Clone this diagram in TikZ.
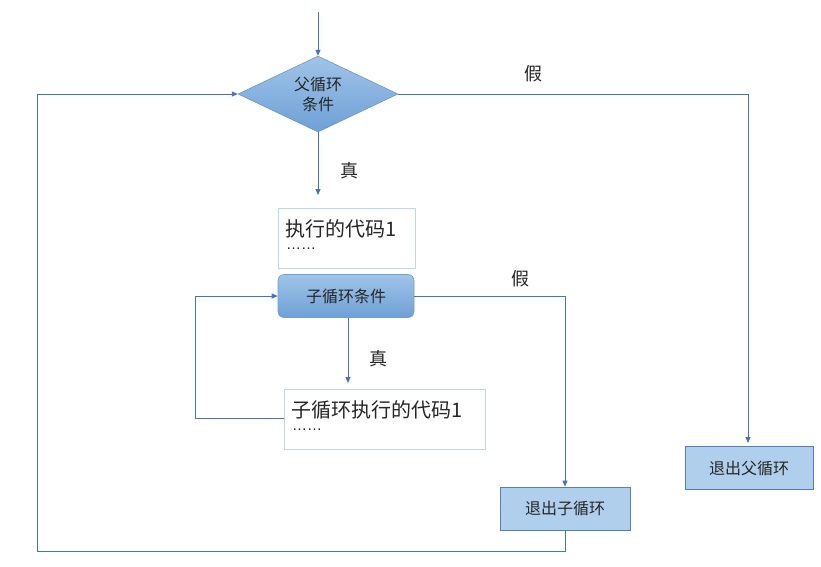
\documentclass[tikz,border=0pt]{standalone}
\usepackage{fontspec}
\newfontfamily\cjk{Noto Sans CJK SC}
\newfontfamily\lat{Liberation Sans}
\usetikzlibrary{shapes.geometric,arrows.meta}
\definecolor{lineblue}{RGB}{68,114,196}
\definecolor{boxborder}{RGB}{190,215,235}
\definecolor{exitfill}{RGB}{176,207,236}
\definecolor{exitborder}{RGB}{84,126,192}
\definecolor{dtop}{RGB}{160,196,232}
\definecolor{dbot}{RGB}{110,160,214}
\tikzset{
  conn/.style={draw=lineblue, line width=0.8pt, -{Triangle[width=5pt,length=6pt]}},
  codebox/.style={draw=boxborder, line width=0.8pt, fill=white, rectangle, inner sep=0pt},
  exitbox/.style={draw=exitborder, line width=0.8pt, fill=exitfill, rectangle, minimum width=128pt, minimum height=43pt, font=\cjk\fontsize{16}{18}\selectfont, text=black!85},
  lbl/.style={font=\cjk\fontsize{18}{20}\selectfont, text=black!85},
  codetext/.style={anchor=west, inner sep=0pt, font=\cjk\fontsize{20}{22}\selectfont, text=black!85},
  dots/.style={anchor=west, inner sep=0pt, font=\lat\fontsize{15}{16}\selectfont, text=black!85},
}
\begin{document}
\begin{tikzpicture}[x=1pt,y=-1pt]
\useasboundingbox[fill=white] (0,0) rectangle (821,566);
% parent diamond
\node[diamond, top color=dtop, bottom color=dbot, draw=dbot!90!black, line width=0.5pt, minimum width=160pt, minimum height=76pt, aspect=2.1, inner sep=0pt, align=center, text=black!85, font=\cjk\fontsize{16}{20}\selectfont] (pd) at (318,94) {父循环\\条件};
\coordinate (start) at (318,12);
% code box 1
\node[codebox, minimum width=137pt, minimum height=60pt] (c1) at (346.5,238) {};
\node[codetext] (c1t) at (285,229) {执行的代码1};
\node[dots] (c1d) at (286,249) {……};
% child condition
\node[rectangle, rounded corners=6pt, top color=dtop, bottom color=dbot, draw=dbot, line width=0.6pt, minimum width=136pt, minimum height=43pt, text=black!85, font=\cjk\fontsize{16}{18}\selectfont] (cc) at (346,296) {子循环条件};
% code box 2
\node[codebox, minimum width=201pt, minimum height=60pt] (c2) at (384.5,419) {};
\node[codetext] (c2t) at (291,410) {子循环执行的代码1};
\node[dots] (c2d) at (292,430) {……};
% exit boxes
\node[exitbox, minimum width=130pt] (ec) at (565,508.5) {退出子循环};
\node[exitbox] (ep) at (749,468) {退出父循环};
% coordinates
\coordinate (a1) at (318,195);
\coordinate (s1) at (348,318);
\coordinate (s2) at (348,383);
\coordinate (b0) at (284,418);
\coordinate (b1) at (195,418);
\coordinate (b2) at (195,296);
\coordinate (f1) at (565,296);
\coordinate (g1) at (565,551);
\coordinate (g2) at (37,551);
\coordinate (g3) at (37,94);
\coordinate (h1) at (748,94);
\coordinate (h2) at (748,443);
% connectors
\draw[conn] (start) -- (pd.north);
\draw[conn] (pd.south) -- (a1);
\draw[conn] (s1) -- (s2);
\draw[conn] (b0) -- (b1) -- (b2) -- (cc.west);
\draw[conn] (cc.east) -- (f1) -- (ec.north);
\draw[conn] (ec.south) -- (g1) -- (g2) -- (g3) -- (pd.west);
\draw[conn] (pd.east) -- (h1) -- (h2);
% labels
\node[lbl] (t1) at (349,171) {真};
\node[lbl] (t2) at (378,359) {真};
\node[lbl] (f2) at (520,279) {假};
\node[lbl] (f3) at (533,74) {假};
\end{tikzpicture}
\end{document}
